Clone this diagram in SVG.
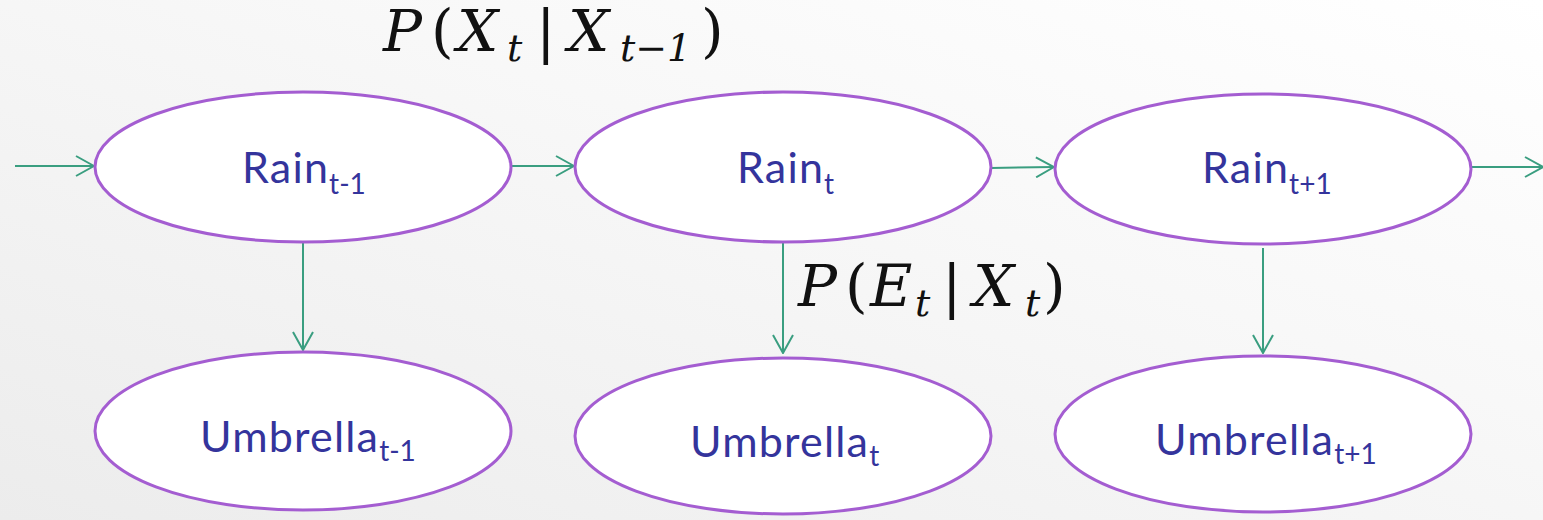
<svg xmlns="http://www.w3.org/2000/svg" width="1543" height="520" viewBox="0 0 1543 520">
<defs>
<linearGradient id="bg" x1="0" y1="1" x2="1" y2="0">
<stop offset="0" stop-color="#ececec"/>
<stop offset="0.6" stop-color="#f8f8f8"/>
<stop offset="1" stop-color="#ffffff"/>
</linearGradient>
<marker id="arr" markerWidth="20" markerHeight="22" refX="19" refY="11" orient="auto" markerUnits="userSpaceOnUse">
<path d="M1,1 L19,11 L1,21" fill="none" stroke="#3a9e80" stroke-width="2"/>
</marker>
</defs>
<style>
.node{fill:#ffffff;stroke:#a45dd1;stroke-width:3}
.lbl{font-family:Lato,"Open Sans","Liberation Sans",sans-serif;font-size:43px;fill:#34349c}
.main{letter-spacing:1.2px}
.sub{font-size:28px;letter-spacing:0}
.edge{stroke:#3a9e80;stroke-width:2;fill:none}
.math{font-family:"DejaVu Serif","Liberation Serif",serif;fill:#111111;font-size:58px}
.it{font-style:italic}
.ms{font-size:38px;font-style:italic}
</style>
<rect x="0" y="0" width="1543" height="520" fill="url(#bg)"/>
<g id="edges">
<line class="edge" x1="15" y1="166" x2="94" y2="166" marker-end="url(#arr)"/>
<line class="edge" x1="511" y1="166" x2="574" y2="166" marker-end="url(#arr)"/>
<line class="edge" x1="991" y1="168" x2="1054" y2="167" marker-end="url(#arr)"/>
<line class="edge" x1="1471" y1="167" x2="1543" y2="167" marker-end="url(#arr)"/>
<line class="edge" x1="303" y1="242" x2="303" y2="350" marker-end="url(#arr)"/>
<line class="edge" x1="783" y1="242" x2="783" y2="353" marker-end="url(#arr)"/>
<line class="edge" x1="1263" y1="248" x2="1263" y2="353" marker-end="url(#arr)"/>
</g>
<g id="rain_tm1">
<ellipse class="node" cx="303" cy="167" rx="208" ry="75"/>
<text class="lbl" x="242" y="183"><tspan class="main">Rain</tspan><tspan class="sub" dy="11">t-1</tspan></text>
</g>
<g id="rain_t">
<ellipse class="node" cx="783" cy="167" rx="208" ry="75"/>
<text class="lbl" x="737" y="183"><tspan class="main">Rain</tspan><tspan class="sub" dy="11">t</tspan></text>
</g>
<g id="rain_tp1">
<ellipse class="node" cx="1263" cy="169" rx="208" ry="75"/>
<text class="lbl" x="1202" y="183"><tspan class="main">Rain</tspan><tspan class="sub" dy="11">t+1</tspan></text>
</g>
<g id="umb_tm1">
<ellipse class="node" cx="303" cy="431" rx="208" ry="79"/>
<text class="lbl" x="200" y="452"><tspan class="main">Umbrella</tspan><tspan class="sub" dy="9">t-1</tspan></text>
</g>
<g id="umb_t">
<ellipse class="node" cx="783" cy="436" rx="208" ry="78"/>
<text class="lbl" x="690" y="457"><tspan class="main">Umbrella</tspan><tspan class="sub" dy="9">t</tspan></text>
</g>
<g id="umb_tp1">
<ellipse class="node" cx="1263" cy="434" rx="208" ry="78"/>
<text class="lbl" x="1155" y="455"><tspan class="main">Umbrella</tspan><tspan class="sub" dy="9">t+1</tspan></text>
</g>
<g id="label_transition">
<text class="math" y="51"><tspan class="it" x="383">P</tspan><tspan x="431">(</tspan><tspan class="it" x="457">X</tspan><tspan class="ms" x="507" dy="10">t</tspan><tspan x="536" dy="-10">|</tspan><tspan class="it" x="568">X</tspan><tspan class="ms" x="620" dy="10">t−1</tspan><tspan x="701" dy="-10">)</tspan></text>
</g>
<g id="label_emission">
<text class="math" y="306"><tspan class="it" x="798">P</tspan><tspan x="845">(</tspan><tspan class="it" x="870">E</tspan><tspan class="ms" x="915" dy="10">t</tspan><tspan x="942" dy="-10">|</tspan><tspan class="it" x="973">X</tspan><tspan class="ms" x="1025" dy="10">t</tspan><tspan x="1043" dy="-10">)</tspan></text>
</g>
</svg>
